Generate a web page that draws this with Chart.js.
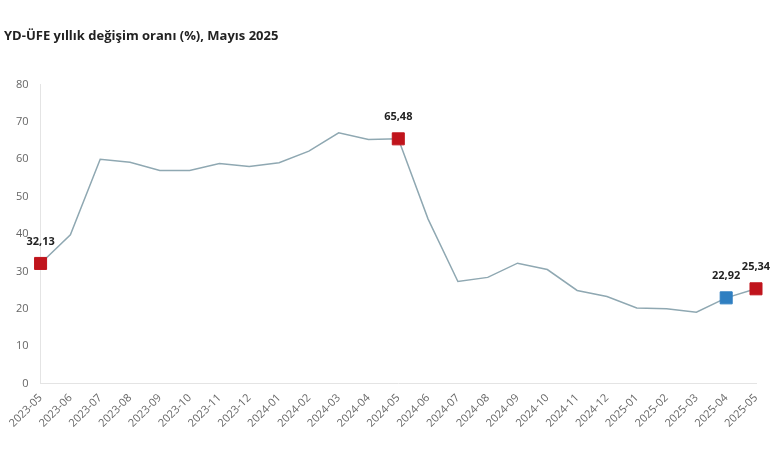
<!DOCTYPE html>
<html>
<head>
<meta charset="utf-8">
<script src="https://cdn.jsdelivr.net/npm/chart.js@4.4.1/dist/chart.umd.min.js"></script>
<style>
  body { margin: 0; background: #fff; }
  canvas { display: block; }
</style>
</head>
<body>
<canvas id="chart" width="780" height="470"></canvas>
<script>
// aylar
const months = [
  '2023-05', '2023-06', '2023-07', '2023-08', '2023-09', '2023-10', '2023-11', '2023-12',
  '2024-01', '2024-02', '2024-03', '2024-04', '2024-05', '2024-06', '2024-07', '2024-08',
  '2024-09', '2024-10', '2024-11', '2024-12', '2025-01', '2025-02', '2025-03', '2025-04', '2025-05'
];
// YD-UFE yillik degisim (%)
const rates = [
  32.13, 39.8, 60.0, 59.2, 57.0, 57.0, 58.9, 58.1,
  59.1, 62.2, 67.1, 65.3, 65.48, 44.0, 27.3, 28.4,
  32.2, 30.5, 24.9, 23.3, 20.2, 20.0, 19.1, 22.92, 25.34
];
const yTicks = [0, 10, 20, 30, 40, 50, 60, 70, 80];
const redMonths = ['2023-05', '2024-05', '2025-05'];
const blueMonths = ['2025-04'];

const RED = '#c0141c';
const BLUE = '#2f7fc1';

function markColor(i) {
  const m = months[i];
  if (redMonths.includes(m)) return RED;
  if (blueMonths.includes(m)) return BLUE;
  return null;
}

// etiketleri isaretlerin ustune yaz
const markLabels = {
  id: 'markLabels',
  afterDatasetsDraw(chart) {
    const ctx = chart.ctx;
    const meta = chart.getDatasetMeta(0);
    ctx.save();
    ctx.font = 'bold 11px "Open Sans", sans-serif';
    ctx.fillStyle = '#222';
    ctx.textAlign = 'center';
    ctx.textBaseline = 'middle';
    meta.data.forEach((pt, i) => {
      if (!markColor(i)) return;
      const txt = rates[i].toFixed(2).replace('.', ',');
      ctx.fillText(txt, pt.x, pt.y - 22);
    });
    ctx.restore();
  }
};

new Chart(document.getElementById('chart'), {
  type: 'line',
  data: {
    labels: months,
    datasets: [{
      data: rates,
      borderColor: '#8fa8b2',
      borderWidth: 1.5,
      tension: 0,
      pointStyle: 'rect',
      pointRadius: ctx => markColor(ctx.dataIndex) ? 8.5 : 0,
      pointHoverRadius: ctx => markColor(ctx.dataIndex) ? 8.5 : 0,
      pointBackgroundColor: ctx => markColor(ctx.dataIndex) || 'transparent',
      pointBorderColor: ctx => markColor(ctx.dataIndex) || 'transparent',
      pointBorderWidth: 1
    }]
  },
  options: {
    responsive: false,
    animation: false,
    layout: { padding: { left: 4, right: 24, top: 0, bottom: 32 } },
    plugins: {
      legend: { display: false },
      tooltip: { enabled: false },
      title: {
        display: true,
        text: 'YD-ÜFE yıllık değişim oranı (%), Mayıs 2025',
        align: 'start',
        color: '#222',
        font: { family: '"Open Sans", sans-serif', size: 13, weight: 'bold' },
        padding: { top: 28, bottom: 41 }
      }
    },
    scales: {
      x: {
        offset: false,
        grid: { display: false, drawTicks: false },
        border: { display: true, color: '#e4e4e4' },
        ticks: {
          color: '#666',
          font: { family: '"Open Sans", sans-serif', size: 11 },
          maxRotation: 45,
          minRotation: 45,
          autoSkip: false,
          padding: 8
        }
      },
      y: {
        min: 0,
        max: 80,
        afterBuildTicks: axis => { axis.ticks = yTicks.map(v => ({ value: v })); },
        grid: { display: false, drawTicks: false },
        border: { display: true, color: '#e4e4e4' },
        ticks: {
          color: '#666',
          font: { family: '"Open Sans", sans-serif', size: 11 },
          padding: 12
        }
      }
    }
  },
  plugins: [markLabels]
});
</script>
</body>
</html>
